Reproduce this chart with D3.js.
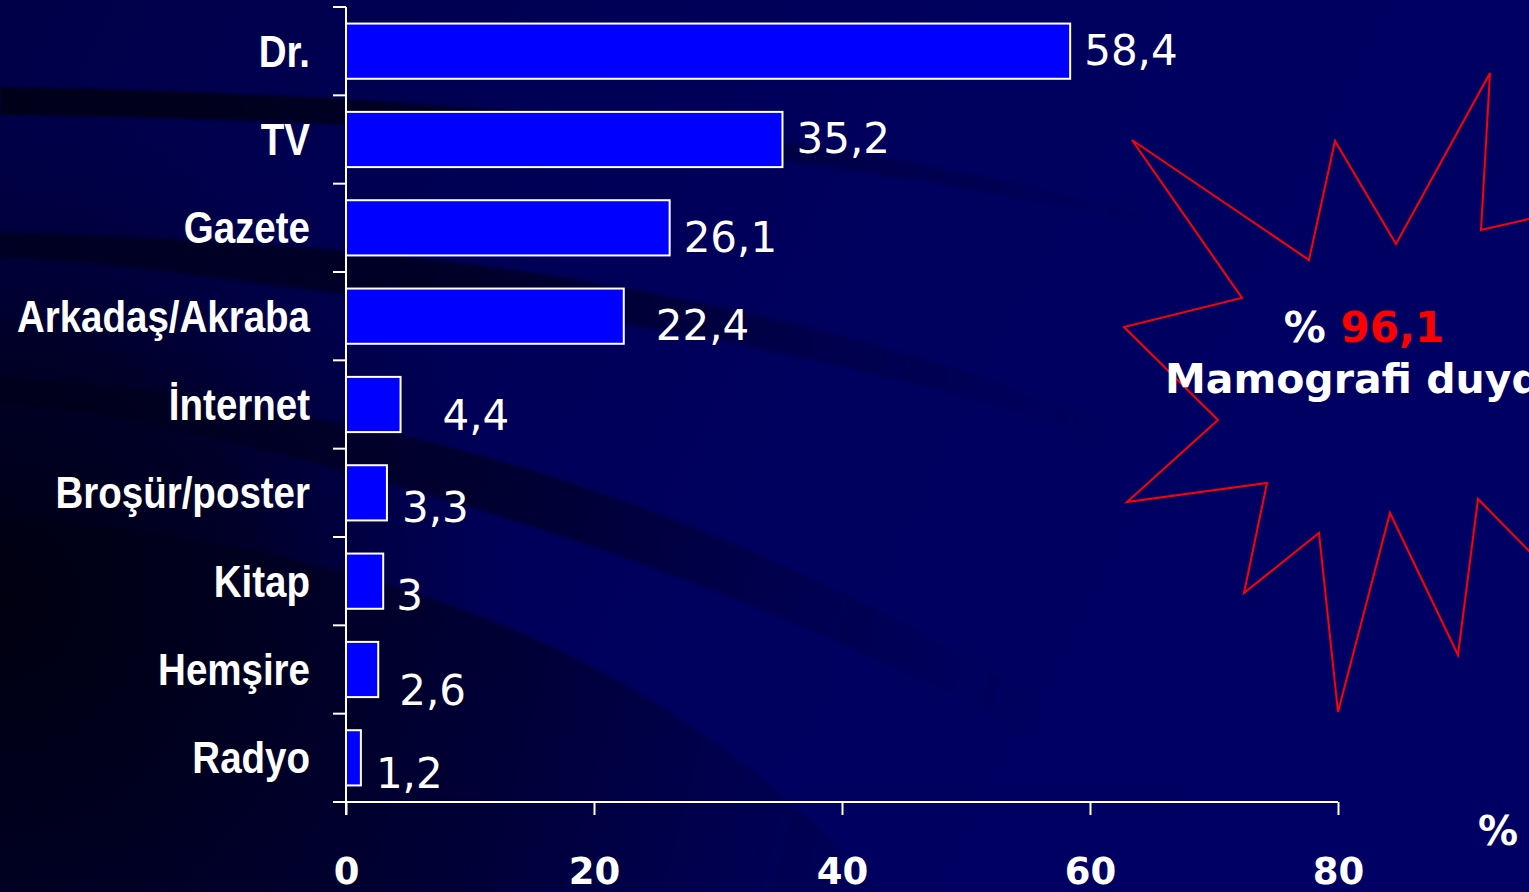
<!DOCTYPE html>
<html><head><meta charset="utf-8">
<script src="https://cdn.jsdelivr.net/npm/d3@7/dist/d3.min.js"></script>
<style>
html,body{margin:0;padding:0;background:#00005c;overflow:hidden;}
svg{display:block;}
</style></head>
<body>
<svg id="chart" width="1529" height="892"></svg>
<script>
// ---- data ----
const categories = ["Dr.", "TV", "Gazete", "Arkadaş/Akraba", "İnternet", "Broşür/poster", "Kitap", "Hemşire", "Radyo"];
const values = [58.4, 35.2, 26.1, 22.4, 4.4, 3.3, 3, 2.6, 1.2];
const xTicks = [0, 20, 40, 60, 80];
const axisUnit = "%";
const calloutPrefix = "% ";
const calloutValue = "96,1";
const calloutText = "Mamografi duydu";
// label nudges (layout only): [dx, dy] relative to bar end / bar centre
const labelNudge = [[14,14],[14,13],[14,24],[32,24],[42,25],[15,29],[13,29],[21,35],[15,30]];

const svg = d3.select("#chart");
const W = 1529, H = 892;
const defs = svg.append("defs");

// ---- background ----
const bg = defs.append("linearGradient").attr("id","bgGrad").attr("x1","0").attr("y1","0").attr("x2","1").attr("y2","0.3");
bg.append("stop").attr("offset","0").attr("stop-color","#000048");
bg.append("stop").attr("offset","0.6").attr("stop-color","#00005e");
bg.append("stop").attr("offset","1").attr("stop-color","#000064");
svg.append("rect").attr("width",W).attr("height",H).attr("fill","url(#bgGrad)");

const fade = defs.append("linearGradient").attr("id","fade").attr("gradientUnits","userSpaceOnUse")
  .attr("x1",0).attr("y1",0).attr("x2",1150).attr("y2",300);
fade.append("stop").attr("offset","0").attr("stop-color","#000012").attr("stop-opacity",1);
fade.append("stop").attr("offset","0.45").attr("stop-color","#00001c").attr("stop-opacity",0.75);
fade.append("stop").attr("offset","1").attr("stop-color","#000030").attr("stop-opacity",0);

const corner = defs.append("radialGradient").attr("id","corner").attr("gradientUnits","userSpaceOnUse")
  .attr("cx",0).attr("cy",600).attr("r",520);
corner.append("stop").attr("offset","0").attr("stop-color","#000010").attr("stop-opacity",1);
corner.append("stop").attr("offset","0.5").attr("stop-color","#000020").attr("stop-opacity",0.8);
corner.append("stop").attr("offset","1").attr("stop-color","#000040").attr("stop-opacity",0);

defs.append("filter").attr("id","soft").append("feGaussianBlur").attr("stdDeviation",1.5);

const swooshes = [
  "M0,87 C150,90 300,95 420,104 C650,120 900,150 1150,215 L1150,225 C900,170 650,140 420,128 C300,122 150,117 0,115 Z",
  "M0,233 C150,236 280,244 400,256 C650,282 900,340 1100,420 L1100,440 C900,370 650,318 400,298 C280,292 150,262 0,258 Z",
  "M0,375 C150,385 280,410 420,440 C650,495 900,600 1200,800 L1200,830 C900,650 650,560 420,492 C280,455 150,415 0,404 Z",
  "M0,518 C200,528 400,575 560,650 C700,720 800,800 880,892 L0,892 Z"
];
svg.append("g").attr("filter","url(#soft)").selectAll("path").data(swooshes).join("path")
  .attr("d", d=>d).attr("fill","url(#fade)");
svg.append("rect").attr("width",W).attr("height",H).attr("fill","url(#corner)");

// ---- scales ----
const x = d3.scaleLinear().domain([0, 80]).range([346, 1338]);
const y = d3.scaleBand().domain(categories).range([7, 802]).paddingInner(0.375).paddingOuter(0.1875);
const step = y.step();

// ---- bars ----
svg.append("g").selectAll("rect").data(values).join("rect")
  .attr("x", x(0)).attr("y", (d,i)=>y(categories[i]))
  .attr("width", d=>x(d)-x(0)).attr("height", y.bandwidth())
  .attr("fill","#0000ff").attr("stroke","#ffffff").attr("stroke-width",2);

// ---- y axis ----
const squeeze = 0.875;
const yAxisG = svg.append("g").attr("transform",`translate(${x(0)},0)`)
  .call(d3.axisLeft(y).tickSize(0).tickPadding(36));
yAxisG.select(".domain").remove();
yAxisG.selectAll("text")
  .attr("fill","#ffffff")
  .attr("font-family","'Liberation Sans',Arial,sans-serif")
  .attr("font-weight","bold").attr("font-size",44)
  .attr("x", -36/squeeze)
  .attr("transform", `scale(${squeeze},1)`)
  .attr("dy","0.35em");
// boundary ticks
const bounds = d3.range(categories.length+1).map(i => y.range()[0] + i*step);
svg.append("g").selectAll("line").data(bounds).join("line")
  .attr("x1", x(0)-13).attr("x2", x(0)).attr("y1", d=>d).attr("y2", d=>d)
  .attr("stroke","#ffffff").attr("stroke-width",2);
svg.append("line").attr("x1",x(0)).attr("x2",x(0)).attr("y1",7).attr("y2",815)
  .attr("stroke","#ffffff").attr("stroke-width",2);

// ---- x axis ----
const xAxisG = svg.append("g").attr("transform","translate(0,802)")
  .call(d3.axisBottom(x).tickValues(xTicks).tickSize(13).tickFormat(d3.format("d")));
xAxisG.select(".domain").remove();
xAxisG.selectAll("line").attr("stroke","#ffffff").attr("stroke-width",2);
xAxisG.selectAll("text").attr("fill","#ffffff").attr("y",82).attr("dy",null)
  .attr("font-family","'DejaVu Sans',sans-serif").attr("font-weight","bold").attr("font-size",37);
svg.append("line").attr("x1",x(0)-13).attr("x2",x(80)).attr("y1",802).attr("y2",802)
  .attr("stroke","#ffffff").attr("stroke-width",2);
svg.append("text").attr("x",1478).attr("y",845).text(axisUnit)
  .attr("fill","#ffffff").attr("font-family","'DejaVu Sans',sans-serif").attr("font-weight","bold").attr("font-size",40);

// ---- value labels ----
svg.append("g").selectAll("text").data(values).join("text")
  .attr("x",(d,i)=>x(d)+labelNudge[i][0])
  .attr("y",(d,i)=>y(categories[i])+y.bandwidth()/2+labelNudge[i][1])
  .text(d=>String(d).replace(".",","))
  .attr("fill","#ffffff").attr("font-family","'DejaVu Sans',sans-serif").attr("font-size",42);

// ---- callout star ----
const starPoints = [[1132,140],[1309,260],[1335,141],[1396,244],[1490,73],[1481,230],[1529,219],[1600,210],
  [1580,380],[1620,560],[1529,551],[1478,499],[1458,655],[1390,513],[1338,712],[1319,533],[1244,593],
  [1267,483],[1127,502],[1218,420],[1124,327],[1242,298]];
svg.append("path").attr("d", d3.line()(starPoints)+"Z")
  .attr("fill","none").attr("stroke","#ff0000").attr("stroke-width",2).attr("stroke-linejoin","miter");

const t1 = svg.append("text").attr("x",1364).attr("y",342).attr("text-anchor","middle")
  .attr("font-family","'DejaVu Sans',sans-serif").attr("font-weight","bold").attr("font-size",42);
t1.append("tspan").attr("fill","#ffffff").text(calloutPrefix);
t1.append("tspan").attr("fill","#ff0000").text(calloutValue);
svg.append("text").attr("x",1165).attr("y",393).text(calloutText)
  .attr("fill","#ffffff").attr("font-family","'DejaVu Sans',sans-serif").attr("font-weight","bold").attr("font-size",41);
</script>
</body></html>
